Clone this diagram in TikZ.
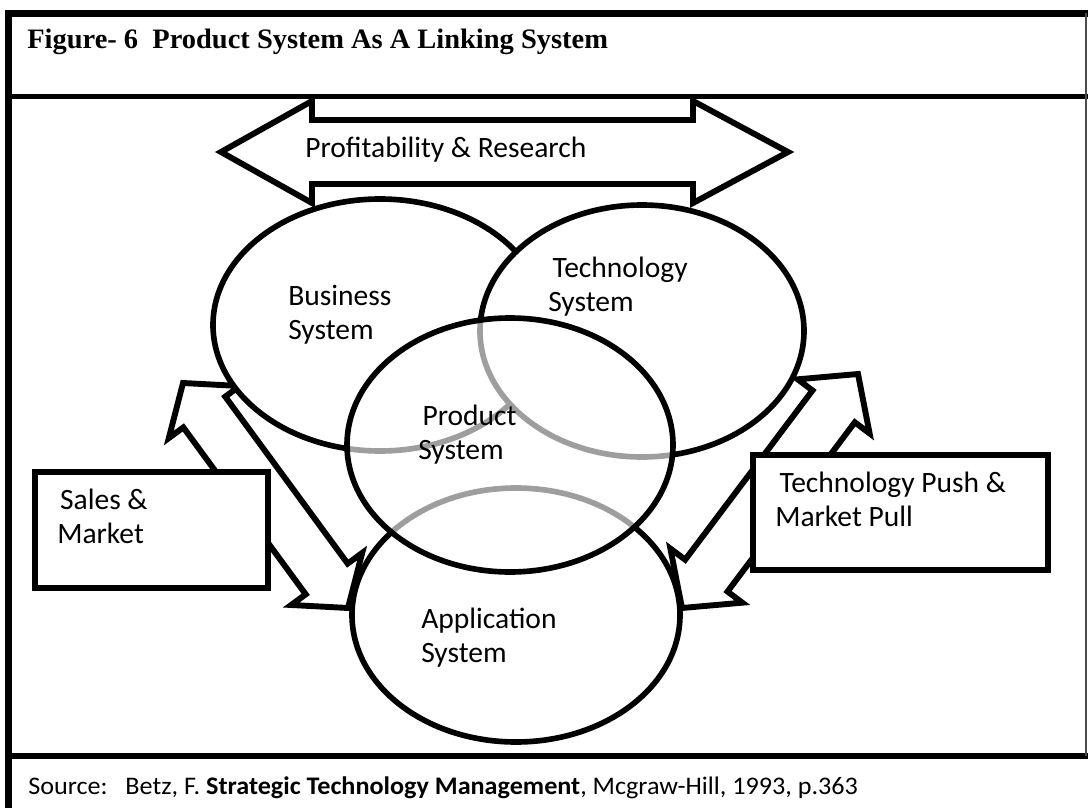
\documentclass[tikz,border=0pt]{standalone}
\usepackage{graphicx}
\usepackage{fontspec}
\setmainfont{Carlito}
\newfontfamily\titlefont{Liberation Serif}

\tikzset{
  frame/.style={line width=4.3pt},
  venn/.style={line width=4pt, fill=white},
  fatarrow/.style={line width=4.2pt, fill=white, line join=miter},
  sidebox/.style={line width=4.3pt, fill=white},
  lbl/.style={inner sep=0pt, align=left, font=\fontsize{21}{24}\selectfont},
}

\begin{document}
\begin{tikzpicture}[x=0.025cm, y=-0.025cm]
\useasboundingbox (0,0) rectangle (1088,808);

% frame and title bar
\draw[frame] (8.5,808)--(8.5,13.5)--(1088,13.5);
\draw[line width=3.4pt] (8.5,96.5)--(1088,96.5);
\draw[frame] (8.5,756)--(1088,756);
\draw[line width=1.2pt, black!70] (1086,13.5)--(1086,756);

\node[anchor=base west, inner sep=0pt, font=\titlefont\bfseries\fontsize{20}{24}\selectfont] (title) at (27,48.5)
  {\resizebox{413pt}{\height}{Figure- 6\ \ Product System As A Linking System}};

% top double arrow
\draw[fatarrow] (221,152)--(312,101)--(312,120)--(693,120)--(693,101)--(788,152)
  --(693,203)--(693,184)--(312,184)--(312,203)--cycle;

% left double arrow
\begin{scope}[shift={(265.5,495.5)}, rotate=-53.75]
\draw[fatarrow] (-139.5,0)--(-103.5,44)--(-103.5,26)--(103.5,26)--(103.5,44)--(139.5,0)
  --(103.5,-44)--(103.5,-26)--(-103.5,-26)--(-103.5,-44)--cycle;
\end{scope}

% right double arrow
\begin{scope}[shift={(770,491)}, rotate=53.05]
\draw[fatarrow] (-146.4,0)--(-105.9,45)--(-105.9,26.5)--(105.9,26.5)--(105.9,45)--(146.4,0)
  --(105.9,-45)--(105.9,-26.5)--(-105.9,-26.5)--(-105.9,-45)--cycle;
\end{scope}

% boxes
\draw[sidebox] (35,472) rectangle (268,588);
\draw[sidebox] (753,455) rectangle (1048,570);

% systems
\draw[venn] (380,325) ellipse [x radius=167, y radius=126];
\draw[venn] (642,331) ellipse [x radius=162, y radius=126];
\draw[venn] (516,615) ellipse [x radius=164, y radius=127];
\draw[venn, fill opacity=0.62] (510,445) ellipse [x radius=163, y radius=127];

% labels (anchor on the last line)
\node[lbl, anchor=base west] (profit) at (305,157) {Profitability \& Research};
\node[lbl, anchor=base west] (business) at (288,339) {Business\\System};
\node[lbl, anchor=base west] (technology) at (548,311) {\hspace{3pt}Technology\\System};
\node[lbl, anchor=base west] (product) at (418,459) {\hspace{3pt}Product\\System};
\node[lbl, anchor=base west] (application) at (421,662) {Application\\System};
\node[lbl, anchor=base west] (sales) at (57,543) {\hspace{2pt}Sales \&\\Market};
\node[lbl, anchor=base west] (push) at (775,526) {\hspace{3pt}Technology Push \&\\Market Pull};

\node[anchor=base west, inner sep=0pt, font=\fontsize{18}{22}\selectfont] (source) at (28,794)
  {\resizebox{590pt}{\height}{Source:\ \ \ Betz, F. \textbf{Strategic Technology Management}, Mcgraw-Hill, 1993, p.363}};
\end{tikzpicture}
\end{document}
